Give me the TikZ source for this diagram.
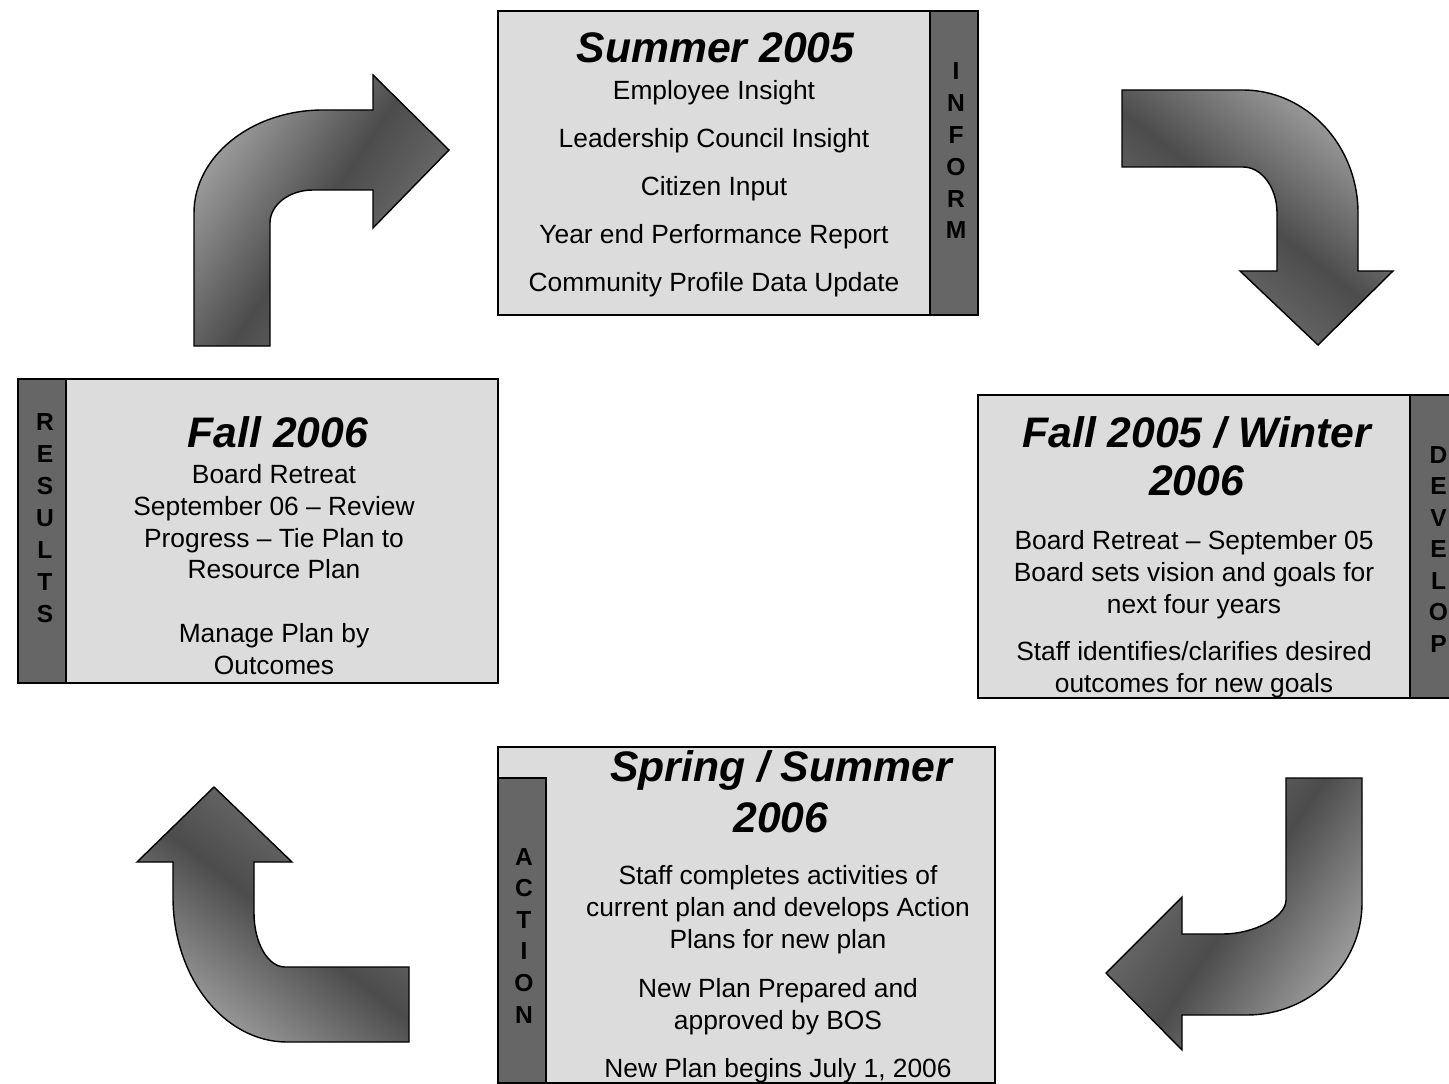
\documentclass[tikz,border=0pt]{standalone}
\usepackage{fontspec}
\setmainfont{Liberation Sans}
\definecolor{alight}{HTML}{A2A2A2}
\definecolor{adark}{HTML}{4C4C4C}
\definecolor{amid}{HTML}{7A7A7A}
\definecolor{boxgray}{HTML}{DCDCDC}
\definecolor{bargray}{HTML}{666666}
\begin{document}
\begin{tikzpicture}[x=0.02cm,y=-0.02cm,
  arrowshape/.style={draw=black, line width=0.8pt, line join=miter,
    top color=alight, bottom color=amid, middle color=adark},
  boxfill/.style={draw=black, line width=1pt, fill=boxgray},
  barfill/.style={draw=black, line width=1pt, fill=bargray},
  txt/.style={font=\fontsize{15}{18}\selectfont, anchor=base, inner sep=0pt},
  ttl/.style={font=\fontsize{24.3}{29}\selectfont\bfseries\itshape, anchor=base, inner sep=0pt},
  ltr/.style={font=\fontsize{14}{17}\selectfont\bfseries, anchor=base, inner sep=0pt}]
\useasboundingbox (0,0) rectangle (1449,1084);

% ---- curved block arrows ----
\path[arrowshape, shading angle=56]
  (194,346) -- (194,213) .. controls (194,156) and (252,110) .. (323,110)
  -- (373,110) -- (373,75) -- (449,150) -- (373,228) -- (373,190) -- (313,190)
  .. controls (289,190) and (270,205) .. (270,223) -- (270,346) -- cycle;
\path[arrowshape, shading angle=-38]
  (1122,90) -- (1243,90) .. controls (1306,90) and (1358,145) .. (1358,213)
  -- (1358,271) -- (1393,271) -- (1318,345) -- (1240,271) -- (1277,271) -- (1277,213)
  .. controls (1277,188) and (1262,167) .. (1243,167) -- (1122,167) -- cycle;
\path[arrowshape, shading angle=-124]
  (1286,778) -- (1362,778) -- (1362,903) .. controls (1362,965) and (1310,1015) .. (1247,1015)
  -- (1182,1015) -- (1182,1050) -- (1106,973) -- (1182,897) -- (1182,934) -- (1223,934)
  .. controls (1254,934) and (1286,917) .. (1286,900) -- cycle;
\path[arrowshape, shading angle=142]
  (214,787) -- (292,862) -- (254,862) -- (254,913) .. controls (254,943) and (268,967) .. (285,967)
  -- (409,967) -- (409,1042) -- (287,1042) .. controls (224,1042) and (173,977) .. (173,897)
  -- (173,862) -- (137,862) -- cycle;

% ---- boxes ----
\draw[boxfill] (498,11) rectangle (930,315);
\draw[barfill] (930,11) rectangle (978,315);
\draw[boxfill] (978,395) rectangle (1410,698);
\draw[barfill] (1410,395) rectangle (1470,698);
\draw[boxfill] (498,747) rectangle (995,1083);
\draw[barfill] (498,778) rectangle (546,1083);
\draw[barfill] (18,379) rectangle (66,683);
\draw[boxfill] (66,379) rectangle (498,683);

% ---- Summer 2005 ----
\node[ttl] (s0) at (715.5,63) {Summer 2005};
\node[txt] (s1) at (714,100) {Employee Insight};
\node[txt] (s2) at (714,148) {Leadership Council Insight};
\node[txt] (s3) at (714,196) {Citizen Input};
\node[txt] (s4) at (714,244) {Year end Performance Report};
\node[txt] (s5) at (714,292) {Community Profile Data Update};
\node[ltr] (i1) at (956,80) {I};
\node[ltr] (i2) at (956,111.8) {N};
\node[ltr] (i3) at (956,143.6) {F};
\node[ltr] (i4) at (956,175.4) {O};
\node[ltr] (i5) at (956,207.2) {R};
\node[ltr] (i6) at (956,239) {M};

% ---- Fall 2005 / Winter 2006 ----
\node[ttl] (f0) at (1196.5,447) {Fall 2005 / Winter};
\node[ttl] (f0b) at (1196.5,495) {2006};
\node[txt] (f1) at (1194,549) {Board Retreat – September 05};
\node[txt] (f2) at (1194,581) {Board sets vision and goals for};
\node[txt] (f3) at (1194,613) {next four years};
\node[txt] (f4) at (1194,660) {Staff identifies/clarifies desired};
\node[txt] (f5) at (1194,692) {outcomes for new goals};
\node[ltr] (d1) at (1438.5,463) {D};
\node[ltr] (d2) at (1438.5,494.5) {E};
\node[ltr] (d3) at (1438.5,526) {V};
\node[ltr] (d4) at (1438.5,557.5) {E};
\node[ltr] (d5) at (1438.5,589) {L};
\node[ltr] (d6) at (1438.5,620.5) {O};
\node[ltr] (d7) at (1438.5,652) {P};

% ---- Spring / Summer 2006 ----
\node[ttl] (p0) at (781,781) {Spring / Summer};
\node[ttl] (p0b) at (781,832) {2006};
\node[txt] (p1) at (778,884) {Staff completes activities of};
\node[txt] (p2) at (778,916) {current plan and develops Action};
\node[txt] (p3) at (778,948) {Plans for new plan};
\node[txt] (p4) at (778,997) {New Plan Prepared and};
\node[txt] (p5) at (778,1029) {approved by BOS};
\node[txt] (p6) at (778,1077) {New Plan begins July 1, 2006};
\node[ltr] (a1) at (524,865) {A};
\node[ltr] (a2) at (524,896.6) {C};
\node[ltr] (a3) at (524,928.2) {T};
\node[ltr] (a4) at (524,959.8) {I};
\node[ltr] (a5) at (524,991.4) {O};
\node[ltr] (a6) at (524,1023) {N};

% ---- Fall 2006 ----
\node[ttl] (r0) at (278,447) {Fall 2006};
\node[txt] (r1) at (274,483) {Board Retreat};
\node[txt] (r2) at (274,515) {September 06 – Review};
\node[txt] (r3) at (274,547) {Progress – Tie Plan to};
\node[txt] (r4) at (274,578) {Resource Plan};
\node[txt] (r5) at (274,642) {Manage Plan by};
\node[txt] (r6) at (274,674) {Outcomes};
\node[ltr] (e1) at (45,430) {R};
\node[ltr] (e2) at (45,462) {E};
\node[ltr] (e3) at (45,494) {S};
\node[ltr] (e4) at (45,526) {U};
\node[ltr] (e5) at (45,558) {L};
\node[ltr] (e6) at (45,590) {T};
\node[ltr] (e7) at (45,622) {S};
\end{tikzpicture}
\end{document}
